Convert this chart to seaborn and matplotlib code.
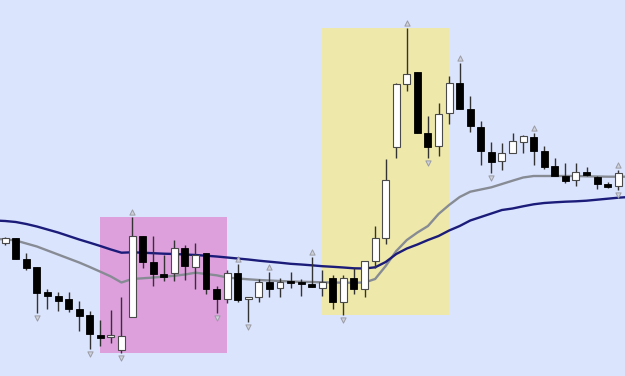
import numpy as np
import pandas as pd
import matplotlib
matplotlib.use("Agg")
import matplotlib.pyplot as plt
import seaborn as sns

# ---- data ----
opens = [156.7, 161.7, 140.7, 132.7, 107.7, 104.3, 101.0, 91.3, 85.3, 65.0,
         63.0, 50.3, 82.7, 164.3, 138.0, 125.7, 127.3, 152.3, 133.3, 147.3,
         110.7, 101.3, 127.3, 100.7, 102.7, 118.3, 112.3, 119.0, 117.7, 116.3,
         112.3, 121.7, 97.7, 121.7, 111.0, 139.0, 162.3, 252.7, 315.7, 328.3,
         266.7, 254.3, 286.7, 317.3, 291.0, 273.3, 248.3, 239.0, 246.7, 257.7,
         262.7, 249.0, 234.0, 224.3, 220.0, 227.7, 223.3, 215.7, 214.0]
highs = [163.0, 162.3, 146.7, 132.7, 110.7, 107.7, 108.3, 99.0, 88.7, 80.0,
         90.0, 103.0, 183.3, 164.3, 164.0, 145.0, 160.0, 155.0, 156.7, 147.3,
         114.0, 130.0, 136.0, 102.7, 120.7, 128.3, 121.7, 127.7, 121.0, 142.7,
         130.0, 125.0, 125.0, 132.3, 139.0, 174.0, 241.0, 317.3, 371.7, 328.3,
         284.0, 296.7, 324.5, 337.3, 304.0, 279.3, 257.7, 256.7, 267.3, 265.5,
         267.5, 254.3, 241.7, 236.7, 236.7, 233.3, 224.0, 218.3, 230.0]
lows = [155.0, 140.7, 130.0, 86.7, 90.7, 89.0, 88.0, 69.3, 50.7, 54.3,
        57.3, 47.0, 82.7, 132.3, 114.3, 119.0, 119.0, 120.0, 111.3, 106.0,
        86.7, 96.7, 97.7, 78.3, 98.3, 103.3, 103.3, 112.3, 104.0, 113.3,
        104.0, 90.7, 85.0, 106.0, 102.7, 132.3, 155.7, 242.3, 309.0, 266.7,
        241.7, 244.0, 276.3, 291.0, 268.3, 235.0, 226.7, 230.0, 246.7, 247.3,
        235.0, 230.7, 224.0, 217.3, 214.0, 224.5, 210.7, 211.7, 210.0]
closes = [161.7, 140.7, 132.3, 107.3, 104.0, 99.0, 91.0, 83.7, 66.0, 62.0,
          65.0, 64.0, 164.3, 137.7, 125.7, 123.0, 151.7, 134.0, 145.0, 110.7,
          100.7, 127.3, 100.0, 102.7, 117.7, 111.0, 117.7, 117.3, 115.7, 113.3,
          118.0, 98.0, 121.7, 111.0, 139.0, 162.3, 220.0, 315.7, 326.0, 266.7,
          252.7, 285.7, 316.7, 291.0, 274.0, 249.3, 238.3, 246.7, 259.0, 264.0,
          249.0, 233.3, 224.3, 219.3, 227.7, 225.0, 216.0, 212.7, 226.7]

# moving averages, one value per bar from bar -1 to bar 59
ma_index = list(range(-1, 60))
ma_slow = [179.5, 179, 178, 176, 173.5, 170.5, 167.5, 164, 160.5, 157.3,
           154, 150.5, 147.3, 147.7, 147.3, 146.8, 146.3, 146, 145.5, 145,
           144.3, 143.5, 142.5, 141.5, 140.5, 139.3, 138.3, 137.3, 136.2, 135.5,
           134.7, 133.8, 133.2, 132.5, 131.7, 131.5, 132.7, 138, 146, 151.5,
           155.5, 160, 164, 169.5, 174, 179.5, 183, 186.5, 190, 191.5,
           193.7, 195.7, 197, 197.7, 198.3, 198.7, 199.3, 200.3, 201.3, 202.3, 203]
ma_fast = [161, 160.7, 159.5, 156.5, 153.5, 149.5, 145.5, 141.5, 137.5, 133,
           128.3, 123.5, 117.5, 121, 121.7, 122.5, 123.3, 124.2, 125.5, 127.3,
           126, 124.7, 122.5, 121.5, 120.7, 120, 119.5, 119, 118.5, 118.2,
           118, 117.7, 117.5, 117.3, 117.3, 117.5, 121, 134, 149, 160,
           167.5, 174, 186, 195, 203, 208.3, 210.5, 212.7, 216, 219.3,
           222.5, 224, 224, 224, 224, 224, 223.7, 223.5, 223.3, 223.3, 223.3]

fractal_up = [12, 22, 25, 29, 38, 43, 50, 58]
fractal_down = [3, 8, 11, 20, 23, 32, 40, 46, 58]

zones = [(9, 21, "#dda0dd"), (30, 42, "#eee8aa")]

# ---- styling ----
bg = "#dbe4fd"
sns.set_style("white", {"axes.facecolor": bg, "figure.facecolor": bg})

df = pd.DataFrame({"open": opens, "high": highs, "low": lows, "close": closes})
df["i"] = np.arange(len(df))
ma = pd.DataFrame({"i": ma_index, "slow": ma_slow, "fast": ma_fast})

fig = plt.figure(figsize=(6.25, 3.76), dpi=100)
ax = fig.add_axes([0, 0, 1, 1])
ax.set_facecolor(bg)

# zones
for a, b, col in zones:
    sub = df[(df.i >= a) & (df.i <= b)]
    top, bot = sub.high.max(), sub.low.min()
    ax.fill_between([a, b], [bot, bot], [top, top], color=col, lw=0, zorder=0)

# moving averages
sns.lineplot(data=ma, x="i", y="fast", ax=ax, color="#878c94", lw=1.7, zorder=2)
sns.lineplot(data=ma, x="i", y="slow", ax=ax, color="#1b1b7a", lw=1.7, zorder=2)

# candles
w = 0.66
up = df.close >= df.open
ax.vlines(df.i, df.low, df.high, color="#333333", lw=1.0, zorder=3)
body_lo = np.minimum(df.open, df.close)
body_h = np.maximum(np.abs(df.close - df.open), 1.2)
ax.bar(df.i[up], body_h[up], bottom=body_lo[up], width=w, color="white",
       edgecolor="#4a4a4a", linewidth=0.8, zorder=4)
ax.bar(df.i[~up], body_h[~up], bottom=body_lo[~up], width=w, color="black",
       edgecolor="black", linewidth=0.6, zorder=4)

# fractals
fu = df.loc[fractal_up]
fd = df.loc[fractal_down]
sns.scatterplot(x=fu.i, y=fu.high + 5, ax=ax, marker="^", s=14,
                color="#cfd2da", edgecolor="#9a9ca4", linewidth=0.7, zorder=5)
sns.scatterplot(x=fd.i, y=fd.low - 5, ax=ax, marker="v", s=14,
                color="#cfd2da", edgecolor="#9a9ca4", linewidth=0.7, zorder=5)

ax.set_xlim(-0.49, 58.64)
ax.set_ylim(24, 400)
ax.set_xlabel("")
ax.set_ylabel("")
ax.set_xticks([])
ax.set_yticks([])
for s in ax.spines.values():
    s.set_visible(False)

fig.savefig("out.png", dpi=100, facecolor=bg)
